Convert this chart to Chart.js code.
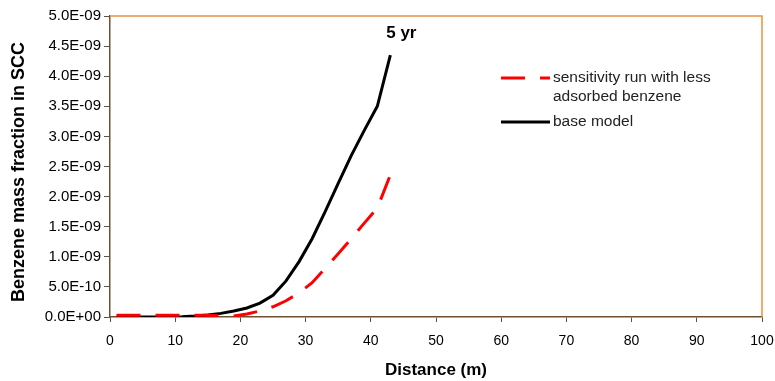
<!DOCTYPE html>
<html>
<head>
<meta charset="utf-8">
<script src="https://cdn.jsdelivr.net/npm/chart.js@4/dist/chart.umd.min.js"></script>
<style>
  html, body { margin: 0; padding: 0; background: #fff; }
  canvas { display: block; }
</style>
</head>
<body>
<canvas id="grafica" width="775" height="381"></canvas>
<script>
// distancias (m) y fraccion masica de benceno en el SCC a los 5 años
const distancias = [1, 3, 5, 7, 9, 11, 13, 15, 17, 19, 21, 23, 25, 27, 29, 31, 33, 35, 37, 39, 41, 43];
const modeloBase = [0, 0, 0, 0, 0, 0.005e-9, 0.015e-9, 0.035e-9, 0.06e-9, 0.10e-9, 0.15e-9, 0.23e-9,
  0.36e-9, 0.60e-9, 0.92e-9, 1.30e-9, 1.75e-9, 2.22e-9, 2.68e-9, 3.10e-9, 3.50e-9, 4.35e-9];
const menosAdsorbido = [0.03e-9, 0.03e-9, 0.03e-9, 0.03e-9, 0.03e-9, 0.03e-9, 0.03e-9, 0.03e-9, 0.02e-9,
  0.015e-9, 0.05e-9, 0.10e-9, 0.17e-9, 0.27e-9, 0.40e-9, 0.57e-9, 0.81e-9, 1.05e-9, 1.30e-9, 1.56e-9, 1.81e-9, 2.36e-9];

const ticksX = [0, 10, 20, 30, 40, 50, 60, 70, 80, 90, 100];
const ticksY = [0, 0.5e-9, 1.0e-9, 1.5e-9, 2.0e-9, 2.5e-9, 3.0e-9, 3.5e-9, 4.0e-9, 4.5e-9, 5.0e-9];

const etiquetas = {
  sensibilidad: ["sensitivity run with less", "adsorbed benzene"],
  base: ["base model"],
  tiempo: "5 yr",
  ejeX: "Distance (m)",
  ejeY: "Benzene mass fraction in SCC"
};

const FUENTE = "'Liberation Sans', Arial, sans-serif";
const MARRON = "#6e4f2e";
const NARANJA = "#e8923f";

// formato tipo Excel: 5.0E-09
function cientifico(v) {
  if (v === 0) return "0.0E+00";
  const [m, e] = v.toExponential(1).split("e");
  const n = parseInt(e, 10);
  return m + "E" + (n < 0 ? "-" : "+") + String(Math.abs(n)).padStart(2, "0");
}

const toXY = (ys) => ys.map((y, i) => ({ x: distancias[i], y }));

// marco naranja arriba y a la derecha, textos y leyenda
const decorado = {
  id: "decorado",
  beforeDatasetsDraw(chart) {
    const { ctx, chartArea: a } = chart;
    ctx.save();
    ctx.strokeStyle = NARANJA;
    ctx.lineWidth = 1.5;
    ctx.beginPath();
    ctx.moveTo(a.left, a.top);
    ctx.lineTo(a.right, a.top);
    ctx.lineTo(a.right, a.bottom);
    ctx.stroke();
    ctx.restore();
  },
  afterDraw(chart) {
    const { ctx, scales } = chart;
    ctx.save();
    ctx.fillStyle = "#000";

    // titulo del eje Y
    ctx.font = "bold 18px " + FUENTE;
    ctx.textAlign = "center";
    ctx.textBaseline = "middle";
    ctx.save();
    ctx.translate(19, 172);
    ctx.rotate(-Math.PI / 2);
    ctx.fillText(etiquetas.ejeY, 0, 0);
    ctx.restore();

    // rotulo sobre el final de la curva base
    const n = distancias.length - 1;
    const px = scales.x.getPixelForValue(distancias[n]);
    const py = scales.y.getPixelForValue(modeloBase[n]);
    ctx.font = "bold 17px " + FUENTE;
    ctx.textBaseline = "alphabetic";
    ctx.fillText(etiquetas.tiempo, px + 11, py - 17);

    // leyenda
    ctx.font = "15.5px " + FUENTE;
    ctx.textAlign = "left";
    ctx.textBaseline = "middle";
    ctx.fillStyle = "#222";
    const filas = [
      { ds: chart.data.datasets[0], texto: etiquetas.sensibilidad, y: 78 },
      { ds: chart.data.datasets[1], texto: etiquetas.base, y: 122 }
    ];
    filas.forEach(f => {
      ctx.save();
      ctx.strokeStyle = f.ds.borderColor;
      ctx.lineWidth = f.ds.borderWidth;
      ctx.setLineDash(f.ds.borderDash || []);
      ctx.beginPath();
      ctx.moveTo(501, f.y);
      ctx.lineTo(550, f.y);
      ctx.stroke();
      ctx.restore();
      f.texto.forEach((t, i) => ctx.fillText(t, 553, f.y + i * 19));
    });
    ctx.restore();
  }
};

new Chart(document.getElementById("grafica"), {
  type: "line",
  data: {
    datasets: [
      {
        label: etiquetas.sensibilidad.join(" "),
        data: toXY(menosAdsorbido),
        borderColor: "#ff0000",
        borderWidth: 3,
        borderDash: [24, 15],
        pointRadius: 0,
        tension: 0
      },
      {
        label: etiquetas.base[0],
        data: toXY(modeloBase),
        borderColor: "#000000",
        borderWidth: 3,
        pointRadius: 0,
        tension: 0
      }
    ]
  },
  options: {
    responsive: false,
    animation: false,
    devicePixelRatio: 1,
    layout: { padding: { top: 16, right: 13, left: 0, bottom: 0 } },
    plugins: {
      legend: { display: false },
      tooltip: { enabled: false }
    },
    scales: {
      x: {
        type: "linear",
        min: 0,
        max: 100,
        afterBuildTicks: s => { s.ticks = ticksX.map(v => ({ value: v })); },
        afterFit: s => { s.height = 64; s.paddingLeft = 0; s.paddingRight = 0; },
        border: { display: true, color: MARRON, width: 1.5 },
        grid: { drawOnChartArea: false, drawTicks: true, tickLength: 5, color: "#555" },
        ticks: { color: "#000", font: { family: FUENTE, size: 14 }, padding: 11, maxRotation: 0 },
        title: {
          display: true,
          text: etiquetas.ejeX,
          color: "#000",
          font: { family: FUENTE, size: 17, weight: "bold" },
          padding: { top: 0, bottom: 0 }
        }
      },
      y: {
        type: "linear",
        min: 0,
        max: 5e-9,
        afterBuildTicks: s => { s.ticks = ticksY.map(v => ({ value: v })); },
        afterFit: s => { s.width = 110; s.paddingTop = 0; s.paddingBottom = 0; },
        border: { display: true, color: MARRON, width: 1.5 },
        grid: { drawOnChartArea: false, drawTicks: true, tickLength: 6, color: "#555" },
        ticks: { color: "#000", font: { family: FUENTE, size: 15 }, padding: 3, callback: v => cientifico(v) }
      }
    }
  },
  plugins: [decorado]
});
</script>
</body>
</html>
